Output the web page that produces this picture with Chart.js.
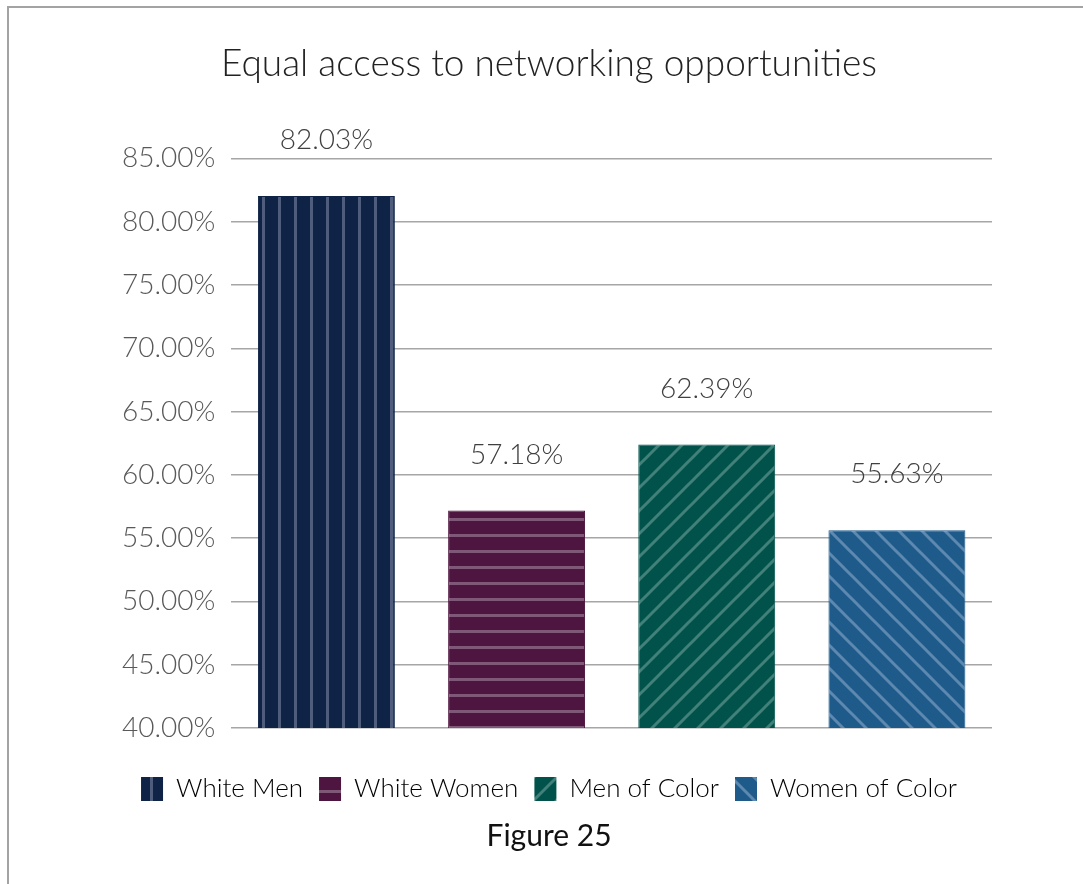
<!DOCTYPE html>
<html>
<head>
<meta charset="utf-8">
<script src="https://cdn.jsdelivr.net/npm/chart.js@4"></script>
<style>
  body { margin: 0; background: #fff; }
  #wrap { position: relative; width: 1083px; height: 884px; overflow: hidden; }
  #frame { position: absolute; left: 7px; top: 6px; width: 1200px; height: 1000px;
           border-left: 2px solid #a3a3a3; border-top: 2px solid #a3a3a3; }
  canvas { position: absolute; left: 0; top: 0; }
</style>
</head>
<body>
<div id="wrap">
  <div id="frame"></div>
  <canvas id="myChart" width="1083" height="884"></canvas>
</div>
<script>
const groups = ["White Men", "White Women", "Men of Color", "Women of Color"];
const values = [82.03, 57.18, 62.39, 55.63];
const yTicks = [40, 45, 50, 55, 60, 65, 70, 75, 80, 85];

const baseColors = ["#0f2346", "#4e1540", "#00524b", "#1e5a8a"];
const stripeColors = ["#4f5c7c", "#7f5877", "#42817a", "#5d89b0"];
const FONT = "'Lato', 'Open Sans', sans-serif";

function makePattern(kind, base, stripe) {
  const c = document.createElement("canvas");
  const s = kind === "v" || kind === "h" ? 16 : 23;
  c.width = s;
  c.height = s;
  const g = c.getContext("2d");
  g.fillStyle = base;
  g.fillRect(0, 0, s, s);
  g.fillStyle = stripe;
  g.strokeStyle = stripe;
  g.lineWidth = 3;
  if (kind === "v") g.fillRect(6, 0, 3, s);
  if (kind === "h") g.fillRect(0, 6, s, 3);
  if (kind === "d" || kind === "b") {
    const lines = kind === "d"
      ? [[-1, s + 1, s + 1, -1], [-1, 1, 1, -1], [s - 1, s + 1, s + 1, s - 1]]
      : [[-1, -1, s + 1, s + 1], [s - 1, -1, s + 1, 1], [-1, s - 1, 1, s + 1]];
    lines.forEach(l => {
      g.beginPath();
      g.moveTo(l[0], l[1]);
      g.lineTo(l[2], l[3]);
      g.stroke();
    });
  }
  return g.createPattern(c, "repeat");
}

const kinds = ["v", "h", "d", "b"];
const patterns = kinds.map((k, i) => makePattern(k, baseColors[i], stripeColors[i]));

// value labels above bars
const barLabels = {
  id: "barLabels",
  afterDatasetsDraw(chart) {
    const ctx = chart.ctx;
    const meta = chart.getDatasetMeta(0);
    ctx.save();
    ctx.font = "300 28px " + FONT;
    ctx.fillStyle = "#404040";
    ctx.textAlign = "center";
    ctx.textBaseline = "middle";
    meta.data.forEach((bar, i) => {
      ctx.fillText(values[i].toFixed(2) + "%", bar.x, bar.y - 56);
    });
    ctx.restore();
  },
};

const ctx = document.getElementById("myChart").getContext("2d");
window.chart = new Chart(ctx, {
  type: "bar",
  data: {
    labels: groups,
    datasets: [
      {
        data: values,
        backgroundColor: patterns,
        borderColor: baseColors,
        borderWidth: 1,
        barPercentage: 0.72,
        categoryPercentage: 1,
      },
    ],
  },
  options: {
    responsive: false,
    animation: false,
    layout: { padding: { left: 106, right: 91, top: 42, bottom: 30 } },
    plugins: {
      title: {
        display: true,
        text: "Equal access to networking opportunities",
        color: "#222",
        font: { family: FONT, size: 37, weight: "300" },
        padding: { top: 0, bottom: 72 },
      },
      subtitle: {
        display: true,
        position: "bottom",
        text: "Figure 25",
        color: "#111",
        font: { family: FONT, size: 30, weight: "400" },
        padding: { top: 6, bottom: 0 },
      },
      legend: {
        position: "bottom",
        labels: {
          color: "#595959",
          font: { family: FONT, size: 26, weight: "300" },
          boxWidth: 22,
          boxHeight: 24,
          padding: 16,
          generateLabels() {
            return groups.map((g, i) => ({
              text: g,
              fillStyle: patterns[i],
              strokeStyle: baseColors[i],
              lineWidth: 0,
              index: i,
            }));
          },
        },
        onClick: null,
      },
      tooltip: { enabled: false },
    },
    scales: {
      x: {
        grid: { display: false },
        border: { display: false },
        ticks: { display: false },
        afterFit(axis) {
          axis.height = 32;
        },
      },
      y: {
        min: 40,
        max: 85,
        afterBuildTicks(axis) {
          axis.ticks = yTicks.map(v => ({ value: v }));
        },
        border: { display: false },
        grid: { color: "#a6a6a6", lineWidth: 1.5, drawTicks: false },
        ticks: {
          padding: 16,
          color: "#595959",
          font: { family: FONT, size: 28, weight: "300" },
          callback: v => v.toFixed(2) + "%",
        },
      },
    },
  },
  plugins: [barLabels],
});
</script>
</body>
</html>
